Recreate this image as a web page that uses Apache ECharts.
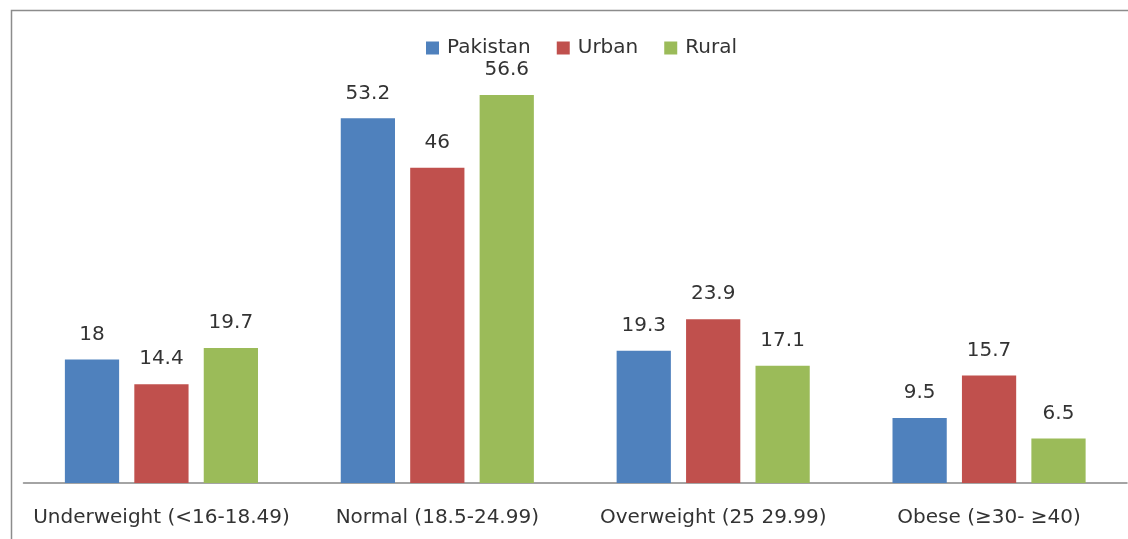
<!DOCTYPE html>
<html>
<head>
<meta charset="utf-8">
<script src="https://cdn.jsdelivr.net/npm/echarts@6/dist/echarts.min.js"></script>
<style>
html,body{margin:0;padding:0;background:#fff;}
#c{width:1128px;height:539px;}
</style>
</head>
<body>
<div id="c"></div>
<script>
const categories = ['Underweight (<16-18.49)', 'Normal (18.5-24.99)', 'Overweight (25 29.99)', 'Obese (≥30- ≥40)'];
const pakistan = [18, 53.2, 19.3, 9.5];
const urban = [14.4, 46, 23.9, 15.7];
const rural = [19.7, 56.6, 17.1, 6.5];

const chart = echarts.init(document.getElementById('c'), null, {renderer: 'canvas'});
const font = '"DejaVu Sans", "Noto Sans", sans-serif';
const lbl = {show: true, position: 'top', distance: 15, color: '#333', fontSize: 20, fontFamily: font};
chart.setOption({
  animation: false,
  backgroundColor: '#fff',
  graphic: [{
    type: 'rect', left: 9, top: 8, shape: {width: 1300, height: 700},
    style: {fill: 'none', stroke: '#8c8c8c', lineWidth: 1.5}, silent: true
  }],
  legend: {
    top: 33, left: 421, itemWidth: 13, itemHeight: 13, itemGap: 26,
    icon: 'rect',
    textStyle: {fontSize: 20, color: '#333', fontFamily: font, padding: [0, 0, 0, 3]},
    data: ['Pakistan', 'Urban', 'Rural']
  },
  grid: {left: 23.5, right: 1, top: 71.7, bottom: 56, containLabel: false},
  xAxis: {
    type: 'category', data: categories,
    axisLine: {lineStyle: {color: '#868686', width: 1.5}},
    axisTick: {show: false},
    axisLabel: {fontSize: 20, color: '#333', fontFamily: font, margin: 25, interval: 0}
  },
  yAxis: {type: 'value', min: 0, max: 60, show: false, splitLine: {show: false}},
  series: [
    {name: 'Pakistan', type: 'bar', data: pakistan, itemStyle: {color: '#4F81BD'}, label: lbl, barGap: '28%', barCategoryGap: '30%'},
    {name: 'Urban', type: 'bar', data: urban, itemStyle: {color: '#C0504D'}, label: lbl},
    {name: 'Rural', type: 'bar', data: rural, itemStyle: {color: '#9BBB59'}, label: lbl}
  ]
});
</script>
</body>
</html>
